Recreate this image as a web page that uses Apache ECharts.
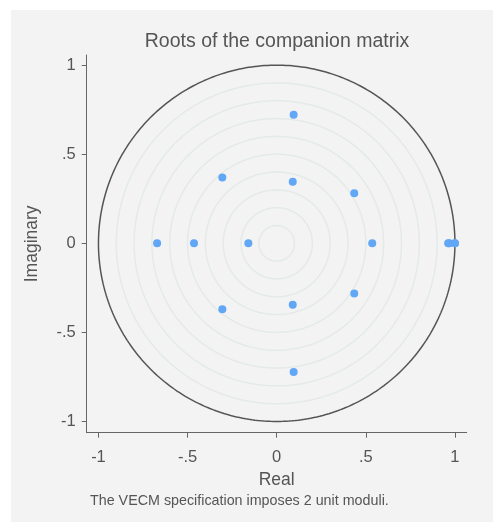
<!DOCTYPE html>
<html>
<head>
<meta charset="utf-8">
<script src="https://cdn.jsdelivr.net/npm/echarts@6/dist/echarts.min.js"></script>
<style>
html,body{margin:0;padding:0;background:#ffffff;}
#chart{width:493px;height:522px;}
</style>
</head>
<body>
<div id="chart"></div>
<script>
// Data
var realParts = [-0.671, -0.464, -0.159, -0.305, -0.305, 0.090, 0.090, 0.095, 0.095, 0.435, 0.435, 0.536, 0.962, 0.968, 1.000, 1.000];
var imagParts = [0, 0, 0, 0.370, -0.370, 0.345, -0.345, 0.722, -0.722, 0.281, -0.281, 0, 0, 0, 0, 0];
var tickValues = [-1, -0.5, 0, 0.5, 1];
var gridRadii = [0.1, 0.2, 0.3, 0.4, 0.5, 0.6, 0.7, 0.8, 0.9];
var unitRadius = 1;
var titleText = 'Roots of the companion matrix';
var noteText = 'The VECM specification imposes 2 unit moduli.';

function circlePoints(r) {
  var pts = [];
  var n = 360;
  for (var i = 0; i <= n; i++) {
    var a = i / n * 2 * Math.PI;
    pts.push([r * Math.cos(a), r * Math.sin(a)]);
  }
  return pts;
}
function fmt(v) {
  if (Math.abs(v) < 1e-9) return '0';
  var s = String(v);
  return s.replace(/^(-?)0\./, '$1.');
}

var FONT = 'Liberation Sans, Arial, sans-serif';
var series = [];
gridRadii.forEach(function (r) {
  series.push({
    type: 'line', data: circlePoints(r), showSymbol: false, silent: true,
    lineStyle: { color: '#e3eae7', width: 1.5 }, z: 1
  });
});
series.push({
  type: 'line', data: circlePoints(unitRadius), showSymbol: false, silent: true,
  lineStyle: { color: '#555555', width: 1.5 }, z: 2
});
series.push({
  type: 'scatter',
  data: realParts.map(function (x, i) { return [x, imagParts[i]]; }),
  symbolSize: 8,
  itemStyle: { color: '#62a6f6', opacity: 1 },
  z: 3
});

var chart = echarts.init(document.getElementById('chart'), null, { renderer: 'canvas' });
chart.setOption({
  animation: false,
  backgroundColor: '#ffffff',
  graphic: [
    { type: 'rect', left: 11, top: 10, shape: { width: 482, height: 512 }, style: { fill: '#f3f3f3' }, z: -10 },
    { type: 'text', x: 277, y: 42, style: { text: titleText, font: '19.5px ' + FONT, fill: '#555555', align: 'center', verticalAlign: 'middle' }, z: 10 },
    { type: 'text', left: 90, top: 494, style: { text: noteText, font: '14.3px ' + FONT, fill: '#555555' }, z: 10 }
  ],
  grid: { left: 86.7, right: 26.3, top: 55, bottom: 89.3, containLabel: false },
  xAxis: {
    type: 'value', min: -1.066, max: 1.066,
    name: 'Real', nameLocation: 'middle', nameGap: 38,
    nameTextStyle: { fontFamily: FONT, fontSize: 17.5, color: '#555555', verticalAlign: 'top' },
    axisLine: { show: true, onZero: false, lineStyle: { color: '#666666', width: 1 } },
    axisTick: { show: true, length: 5, customValues: tickValues, lineStyle: { color: '#666666' } },
    axisLabel: { customValues: tickValues, margin: 16, fontFamily: FONT, fontSize: 16.5, color: '#555555', formatter: fmt },
    splitLine: { show: false }
  },
  yAxis: {
    type: 'value', min: -1.063, max: 1.057,
    name: 'Imaginary', nameLocation: 'middle', nameGap: 46,
    nameTextStyle: { fontFamily: FONT, fontSize: 17.5, color: '#555555' },
    axisLine: { show: true, onZero: false, lineStyle: { color: '#666666', width: 1 } },
    axisTick: { show: true, length: 5, customValues: tickValues, lineStyle: { color: '#666666' } },
    axisLabel: { customValues: tickValues, margin: 11, fontFamily: FONT, fontSize: 16.5, color: '#555555', formatter: fmt },
    splitLine: { show: false }
  },
  series: series
});
</script>
</body>
</html>
